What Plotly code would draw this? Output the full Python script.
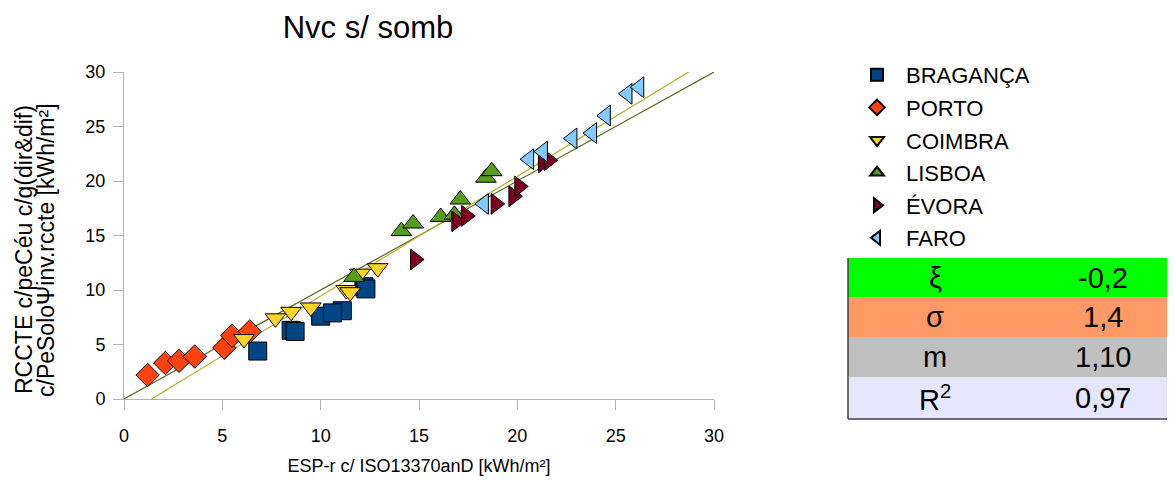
import plotly.graph_objects as go

# ---- data ----
braganca_x = [6.8, 8.5, 8.7, 10.0, 11.1, 10.6, 12.2, 12.3]
braganca_y = [4.4, 6.3, 6.2, 7.6, 8.1, 7.9, 10.3, 10.1]
porto_x = [1.2, 2.1, 2.8, 3.6, 5.1, 5.5, 6.4]
porto_y = [2.2, 3.3, 3.5, 3.9, 4.7, 5.8, 6.2]
coimbra_x = [6.1, 7.7, 8.5, 9.5, 11.3, 11.5, 12.0, 12.9]
coimbra_y = [5.5, 7.4, 8.0, 8.4, 10.0, 9.8, 11.5, 12.0]
lisboa_x = [11.7, 14.1, 14.7, 16.1, 16.8, 17.1, 18.4, 18.7]
lisboa_y = [11.2, 15.4, 16.1, 16.7, 16.9, 18.3, 20.3, 20.9]
evora_x = [14.8, 16.9, 17.4, 18.9, 19.8, 20.1, 21.3, 21.6]
evora_y = [12.8, 16.3, 16.8, 17.9, 18.6, 19.5, 21.7, 21.9]
faro_x = [18.3, 20.6, 21.3, 22.8, 23.8, 24.5, 25.6, 26.2]
faro_y = [17.9, 22.0, 22.7, 23.9, 24.4, 26.0, 28.0, 28.6]

ref_line_x = [0, 30]
ref_line_y = [0, 30]
fit_line_x = [1.4, 28.8]
fit_line_y = [0, 30.1]

series_names = ["BRAGANÇA", "PORTO", "COIMBRA", "LISBOA", "ÉVORA", "FARO"]
series_colors = ["#004586", "#ff420e", "#ffd320", "#579d1c", "#7e0021", "#83caff"]
series_symbols = ["square", "diamond", "triangle-down", "triangle-up", "triangle-right", "triangle-left"]

table_symbols = ["ξ", "σ", "m", "R<sup>2</sup>"]
table_values = ["-0,2", "1,4", "1,10", "0,97"]
table_colors = ["#00ff00", "#ff9966", "#c0c0c0", "#e6e6ff"]

x_ticks = [0, 5, 10, 15, 20, 25, 30]
y_ticks = [0, 5, 10, 15, 20, 25, 30]

# ---- figure ----
OFF = 8  # default page body margin
W, H = 1175, 483 - OFF
L, R, T, B = 124, 714, 72, 399  # plot area in screen pixels
FONT = "Liberation Sans, Arial, sans-serif"


def px(xp):
    return (xp - L) / (R - L)


def py(yp):
    return (B - yp) / (B - T)


fig = go.Figure()

fig.add_trace(go.Scatter(x=ref_line_x, y=ref_line_y, mode="lines",
                         line=dict(color="#5b6b22", width=1.2), showlegend=False, hoverinfo="skip"))
fig.add_trace(go.Scatter(x=fit_line_x, y=fit_line_y, mode="lines",
                         line=dict(color="#b3b32a", width=1.2), showlegend=False, hoverinfo="skip"))

all_x = [braganca_x, porto_x, coimbra_x, lisboa_x, evora_x, faro_x]
all_y = [braganca_y, porto_y, coimbra_y, lisboa_y, evora_y, faro_y]
for i, name in enumerate(series_names):
    fig.add_trace(go.Scatter(
        x=all_x[i], y=all_y[i], mode="markers", name=name,
        legendgroup=name,
        marker=dict(symbol=series_symbols[i], color=series_colors[i], size=18,
                    line=dict(color="#000000", width=1)),
    ))

shapes = []
annotations = []
row_edges = [258, 297, 337, 377, 419]
tx0, tx1 = 848, 1190
for i in range(4):
    y0 = row_edges[i]
    y1 = row_edges[i + 1]
    shapes.append(dict(type="rect", xref="paper", yref="paper",
                       x0=px(tx0), x1=px(tx1), y0=py(y1), y1=py(y0),
                       fillcolor=table_colors[i], line=dict(width=0), layer="above"))
    yc = py((y0 + y1) / 2)
    annotations.append(dict(xref="paper", yref="paper", x=px(935), y=yc,
                            text=table_symbols[i], showarrow=False,
                            font=dict(family=FONT, size=29, color="#000000"),
                            xanchor="center", yanchor="middle"))
    annotations.append(dict(xref="paper", yref="paper", x=px(1103), y=yc,
                            text=table_values[i], showarrow=False,
                            font=dict(family=FONT, size=29, color="#000000"),
                            xanchor="center", yanchor="middle"))
# table border (left and bottom)
shapes.append(dict(type="line", xref="paper", yref="paper",
                   x0=px(tx0), x1=px(tx0), y0=py(row_edges[0]), y1=py(row_edges[-1]),
                   line=dict(color="#404040", width=1.5), layer="above"))
shapes.append(dict(type="line", xref="paper", yref="paper",
                   x0=px(tx0), x1=px(tx1), y0=py(row_edges[-1]), y1=py(row_edges[-1]),
                   line=dict(color="#404040", width=1.5), layer="above"))

# y axis title (two lines)
ytitle_lines = ["RCCTE c/peCéu c/g(dir&dif)", "c/PeSoloΨinv.rccte [kWh/m²]"]
for xc, txt in zip([24, 46], ytitle_lines):
    annotations.append(dict(xref="paper", yref="paper", x=px(xc), y=py(250),
                            text=txt, showarrow=False, textangle=-90,
                            font=dict(family=FONT, size=23, color="#000000"),
                            xanchor="center", yanchor="middle"))

fig.update_layout(
    width=W, height=H, autosize=False,
    margin=dict(l=L - OFF, r=W - (R - OFF), t=T - OFF, b=H - (B - OFF)),
    paper_bgcolor="white", plot_bgcolor="white",
    font=dict(family=FONT, color="#000000"),
    title=dict(text="Nvc s/ somb", x=(368 - OFF) / W, xanchor="center", xref="container",
               y=1 - (27 - OFF) / H, yanchor="middle", yref="container",
               font=dict(family=FONT, size=31, color="#000000")),
    xaxis=dict(range=[0, 30], tickvals=x_ticks, showgrid=False, zeroline=False,
               showline=True, linecolor="#b3b3b3", linewidth=1,
               ticks="outside", ticklen=10, tickcolor="#b3b3b3",
               ticklabelstandoff=10,
               tickfont=dict(family=FONT, size=18, color="#000000"),
               title=dict(text="ESP-r c/ ISO13370anD [kWh/m²]", standoff=14,
                          font=dict(family=FONT, size=18, color="#000000"))),
    yaxis=dict(range=[0, 30], tickvals=y_ticks, showgrid=False, zeroline=False,
               showline=True, linecolor="#b3b3b3", linewidth=1,
               ticks="outside", ticklen=10, tickcolor="#b3b3b3",
               ticklabelstandoff=4,
               tickfont=dict(family=FONT, size=18, color="#000000")),
    legend=dict(x=px(848), y=py(54), xanchor="left", yanchor="top",
                font=dict(family=FONT, size=22, color="#000000"),
                traceorder="grouped", tracegroupgap=1, itemwidth=48,
                bgcolor="rgba(0,0,0,0)", itemsizing="constant"),
    shapes=shapes,
    annotations=annotations,
)

fig.write_html("out.html")
